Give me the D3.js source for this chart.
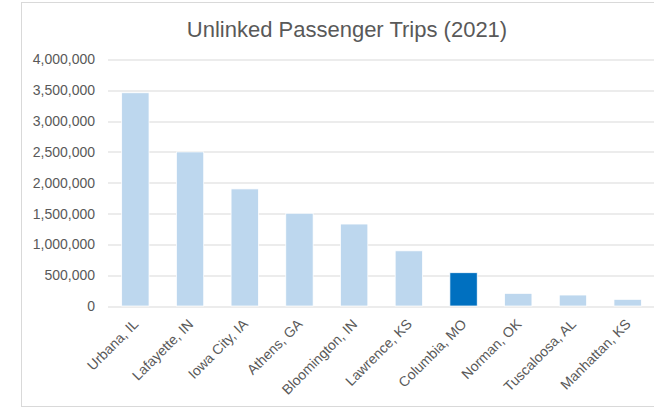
<!DOCTYPE html>
<html>
<head>
<meta charset="utf-8">
<title>Unlinked Passenger Trips (2021)</title>
<script src="https://d3js.org/d3.v7.min.js"></script>
<style>
body {
	margin: 0;
	background-color: white;
	font-family: "Liberation Sans", Arial, sans-serif;
}
svg {
	display: block;
}
.title {
	font-size: 22px;
	fill: #595959;
}
.axis text {
	font-size: 14px;
	fill: #595959;
}
.grid line {
	stroke: #d9d9d9;
	stroke-width: 1;
}
</style>
</head>
<body>
<div id="chart"></div>
<script>
/* globals d3 */
"use strict";

const cities = ["Urbana, IL", "Lafayette, IN", "Iowa City, IA", "Athens, GA",
	"Bloomington, IN", "Lawrence, KS", "Columbia, MO", "Norman, OK",
	"Tuscaloosa, AL", "Manhattan, KS"];
const trips = [3460000, 2500000, 1900000, 1505000, 1330000, 895000,
	540000, 205000, 178000, 108000];
const highlight = "Columbia, MO";
const yTicks = [0, 500000, 1000000, 1500000, 2000000, 2500000, 3000000, 3500000, 4000000];

function main()
{
	const width = 654, height = 408;
	const margin = {top: 59.5, left: 108, bottom: 102, right: -1};
	const w = width - margin.left - margin.right;
	const h = height - margin.top - margin.bottom;

	const svg = d3.select("#chart")
		.append("svg")
			.attr("width", width)
			.attr("height", height);

	// chart frame, right edge is cut off in the original
	svg.append("rect")
		.attr("x", 21.5)
		.attr("y", 2.5)
		.attr("width", 700)
		.attr("height", 404)
		.attr("fill", "none")
		.attr("stroke", "#d9d9d9");

	svg.append("text")
		.attr("class", "title")
		.attr("x", 347)
		.attr("y", 37)
		.attr("text-anchor", "middle")
		.text("Unlinked Passenger Trips (2021)");

	const g = svg.append("g")
		.attr("transform", "translate(" + margin.left + "," + margin.top + ")");

	const x = d3.scaleBand(cities, [0, w]).paddingInner(0.5).paddingOuter(0.25);
	const y = d3.scaleLinear([0, 4000000], [h, 0]);

	g.append("g")
		.attr("class", "grid")
		.selectAll("line")
		.data(yTicks)
		.join("line")
			.attr("x1", 0)
			.attr("x2", w)
			.attr("y1", d => Math.round(y(d)) + 0.5)
			.attr("y2", d => Math.round(y(d)) + 0.5);

	g.selectAll("rect.bar")
		.data(cities)
		.join("rect")
			.attr("class", "bar")
			.attr("x", d => x(d))
			.attr("width", x.bandwidth())
			.attr("y", (d, i) => y(trips[i]))
			.attr("height", (d, i) => h - y(trips[i]))
			.attr("fill", d => d === highlight ? "#0070c0" : "#bdd7ee")
			.attr("stroke", "white")
			.attr("stroke-width", 0.75);

	const yAxis = d3.axisLeft(y).tickValues(yTicks)
		.tickFormat(d3.format(",")).tickSize(0).tickPadding(13);
	g.append("g")
		.attr("class", "axis")
		.call(yAxis)
		.call(a => a.select(".domain").remove());

	const xAxis = d3.axisBottom(x).tickSize(0).tickPadding(0);
	g.append("g")
		.attr("class", "axis")
		.attr("transform", "translate(0," + h + ")")
		.call(xAxis)
		.call(a => a.select(".domain").remove())
		.selectAll("text")
			.attr("text-anchor", "end")
			.attr("dy", null)
			.attr("y", 0)
			.attr("transform", "translate(4,19) rotate(-45)");
}
main();
</script>
</body>
</html>
